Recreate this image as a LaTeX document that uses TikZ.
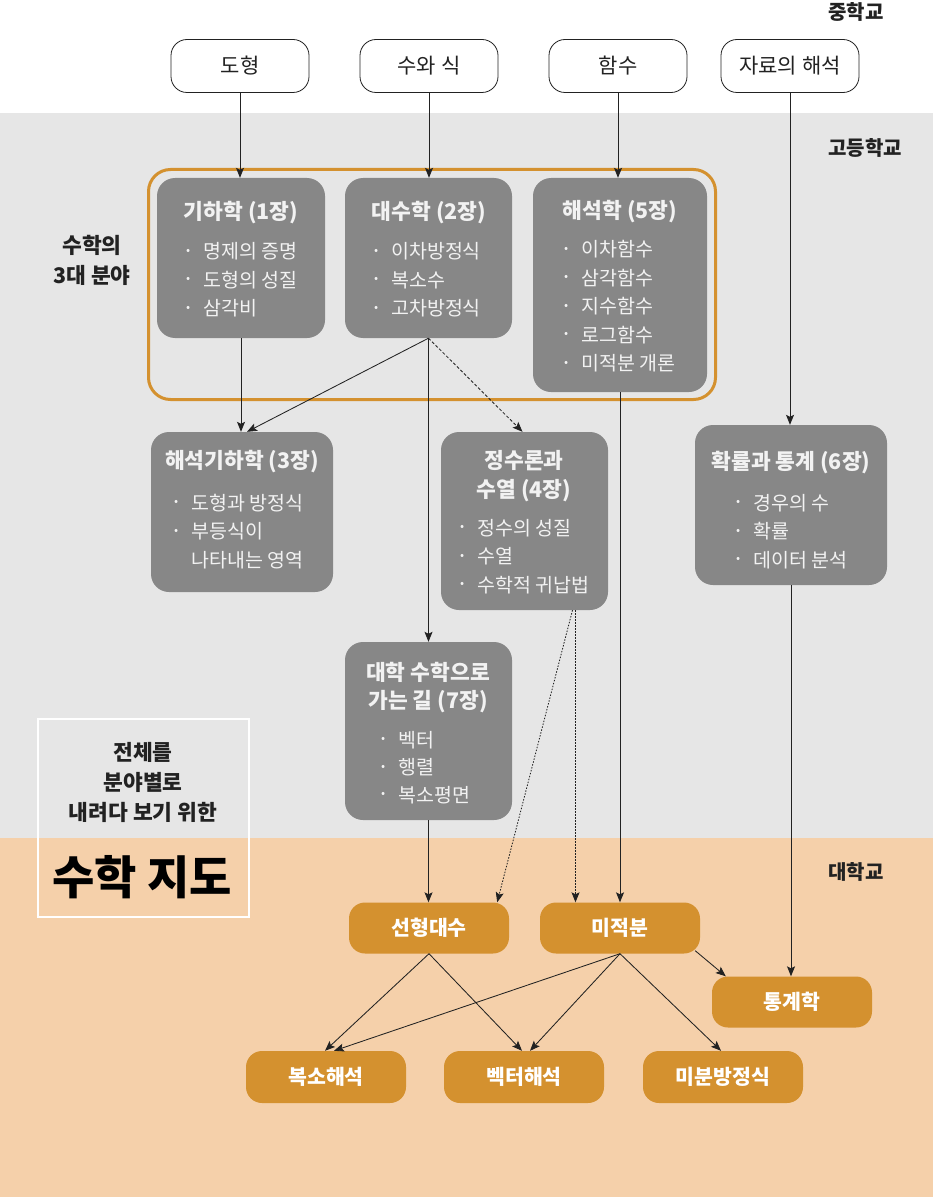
\documentclass[tikz,border=0pt]{standalone}
\usepackage{fontspec}
\setmainfont{Noto Sans CJK KR}
\usetikzlibrary{arrows.meta,calc}
\definecolor{greybg}{HTML}{E6E6E6}
\definecolor{peach}{HTML}{F5D0AA}
\definecolor{orangec}{HTML}{D4912F}
\definecolor{boxgrey}{HTML}{878787}
\definecolor{boxtxt}{HTML}{F2F2F2}
\definecolor{ink}{HTML}{222222}
\newcommand\bul{\makebox[30pt][c]{\raisebox{4.5pt}{\fontsize{12}{12}\selectfont •}}}
\begin{document}
\begin{tikzpicture}[x=1pt,y=-1pt,
  topbox/.style={draw=ink, line width=0.8pt, fill=white, rounded corners=16pt, minimum width=138pt, minimum height=53pt, inner sep=0pt, text=ink, font=\fontsize{21}{24}\selectfont},
  gbox/.style={fill=boxgrey, rounded corners=18pt, inner sep=0pt},
  ttl/.style={text=boxtxt, font=\bfseries\fontsize{21.5}{28.5}\selectfont, align=center, inner sep=0pt},
  lst/.style={text=boxtxt, font=\fontsize{19.5}{28.5}\selectfont, align=left, anchor=west, inner sep=0pt},
  obox/.style={fill=orangec, rounded corners=16pt, minimum width=160pt, minimum height=51pt, inner sep=0pt, text=white, font=\bfseries\fontsize{20.5}{24}\selectfont},
  lvl/.style={anchor=west, inner sep=0pt, text=ink, font=\bfseries\fontsize{20}{24}\selectfont},
  side/.style={align=center, inner sep=0pt, text=ink, font=\bfseries\fontsize{21.5}{30}\selectfont},
  arr/.style={-{Stealth[length=10pt,width=8pt,inset=2pt]}, line width=0.85pt, draw=ink},
  dsh/.style={arr, dash pattern=on 3pt off 2pt},
  dtt/.style={arr, dash pattern=on 1.5pt off 1.5pt}
]
\useasboundingbox (0,0) rectangle (938,1201);
\fill[white] (0,0) rectangle (938,1201);
\fill[greybg] (0,113) rectangle (933,838);
\fill[peach] (0,838) rectangle (933,1197);

% level labels
\node[lvl] (lv1) at (828,12) {중학교};
\node[lvl] (lv2) at (828,148) {고등학교};
\node[lvl] (lv3) at (828,872) {대학교};

% top nodes
\node[topbox] (t1) at (240,66) {도형};
\node[topbox] (t2) at (429,66) {수와 식};
\node[topbox] (t3) at (618,66) {함수};
\node[topbox] (t4) at (790,66) {자료의 해석};

% frame of the three main fields
\node[draw=orangec, line width=3pt, rounded corners=22pt, minimum width=567pt, minimum height=230pt, inner sep=0pt] (grp) at (432,284.5) {};
\node[side] (sidelbl) at (92,260) {수학의\\3대 분야};

% grey boxes
\node[gbox, minimum width=168pt, minimum height=160pt] (g1) at (241,258) {};
\node[gbox, minimum width=167pt, minimum height=160pt] (g2) at (428.5,258) {};
\node[gbox, minimum width=174pt, minimum height=214pt] (g5) at (620,285) {};
\node[gbox, minimum width=182pt, minimum height=160pt] (g3) at (242,512) {};
\node[gbox, minimum width=167pt, minimum height=178pt] (g4) at (524.5,521) {};
\node[gbox, minimum width=192pt, minimum height=160pt] (g6) at (791,505) {};
\node[gbox, minimum width=167pt, minimum height=178pt] (g7) at (428.5,731) {};

% titles
\node[ttl] (g1t) at (241,213) {기하학 (1장)};
\node[ttl] (g2t) at (429,213) {대수학 (2장)};
\node[ttl] (g5t) at (620,212) {해석학 (5장)};
\node[ttl] (g3t) at (242,462) {해석기하학 (3장)};
\node[ttl] (g4t) at (524,476) {정수론과\\수열 (4장)};
\node[ttl] (g6t) at (791,463) {확률과 통계 (6장)};
\node[ttl] (g7t) at (428,687.5) {대학 수학으로\\가는 길 (7장)};

% lists
\node[lst] (g1l) at (173,280) {\bul 명제의 증명\\\bul 도형의 성질\\\bul 삼각비};
\node[lst] (g2l) at (361,280) {\bul 이차방정식\\\bul 복소수\\\bul 고차방정식};
\node[lst] (g5l) at (551,306.5) {\bul 이차함수\\\bul 삼각함수\\\bul 지수함수\\\bul 로그함수\\\bul 미적분 개론};
\node[lst] (g3l) at (161,531.5) {\bul 도형과 방정식\\\bul 부등식이\\\hspace*{30pt}나타내는 영역};
\node[lst] (g4l) at (447,556.5) {\bul 정수의 성질\\\bul 수열\\\bul 수학적 귀납법};
\node[lst] (g6l) at (723,531.5) {\bul 경우의 수\\\bul 확률\\\bul 데이터 분석};
\node[lst, font=\fontsize{19.5}{27.5}\selectfont] (g7l) at (368,767.5) {\bul 벡터\\\bul 행렬\\\bul 복소평면};

% map title box
\node[draw=white, line width=1.5pt, minimum width=211pt, minimum height=198pt, inner sep=0pt] (mapbox) at (143.5,818) {};
\node[side] (mapsub) at (143,782) {전체를\\분야별로\\내려다 보기 위한};
\node[inner sep=0pt, text=black, font=\bfseries\fontsize{46}{50}\selectfont] (maptitle) at (142,877) {수학 지도};

% university nodes
\node[obox] (m1) at (429,928) {선형대수};
\node[obox] (m2) at (620,928) {미적분};
\node[obox] (m3) at (792,1002) {통계학};
\node[obox, minimum height=52pt] (b1) at (326,1077) {복소해석};
\node[obox, minimum height=52pt] (b2) at (524,1077) {벡터해석};
\node[obox, minimum height=52pt] (b3) at (723,1077) {미분방정식};

% connectors
\draw[arr] (t1.south) -- (t1.south |- g1.north);
\draw[arr] (t2.south) -- (t2.south |- g2.north);
\draw[arr] (t3.south) -- (t3.south |- g5.north);
\draw[arr] (t4.south) -- (t4.south |- g6.north);
\draw[arr] (g1.south) -- (g1.south |- g3.north);
\draw[arr] (g2.south) -- ($(g3.north)+(5,0)$);
\draw[dsh] (g2.south) -- ($(g4.north)+(-2,0)$);
\draw[arr] (g2.south) -- (g2.south |- g7.north);
\draw[arr] (g5.south) -- (g5.south |- m2.north);
\coordinate (g4a) at ($(g4.south)+(48,0)$);
\coordinate (g4b) at ($(g4.south)+(51,0)$);
\draw[dtt] (g4a) -- ($(m1.north east)+(-12,0)$);
\draw[dtt] (g4b) -- (g4b |- m2.north);
\draw[arr] (g7.south) -- (g7.south |- m1.north);
\draw[arr] (g6.south) -- (g6.south |- m3.north);
\draw[arr] ($(m2.south east)+(-5,-3)$) -- ($(m3.north west)+(14,0)$);
\draw[arr] (m1.south) -- ($(b1.north)+(-1,0)$);
\draw[arr] (m1.south) -- ($(b2.north)+(-2,0)$);
\draw[arr] (m2.south) -- ($(b1.north)+(8,0)$);
\draw[arr] (m2.south) -- ($(b2.north)+(6,0)$);
\draw[arr] (m2.south) -- ($(b3.north)+(-2,0)$);
\end{tikzpicture}
\end{document}
